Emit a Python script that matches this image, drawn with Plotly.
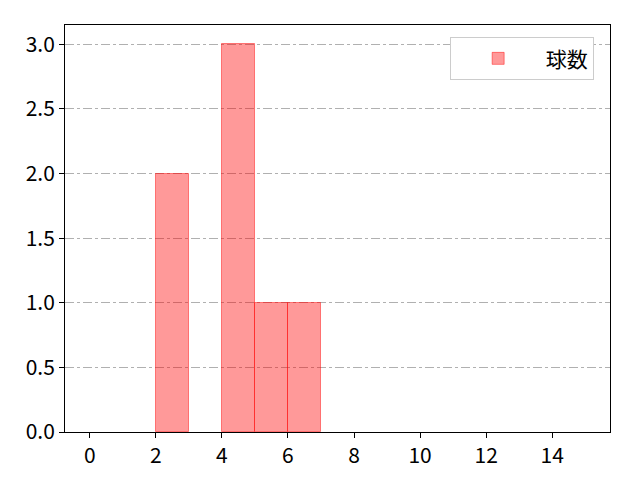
import plotly.graph_objects as go

# histogram bins (left edges) and counts per bin
bin_left = list(range(15))
counts = [0, 0, 2, 0, 3, 1, 1, 0, 0, 0, 0, 0, 0, 0, 0]
series_name = "球数"

x_ticks = [0, 2, 4, 6, 8, 10, 12, 14]
y_ticks = [0.0, 0.5, 1.0, 1.5, 2.0, 2.5, 3.0]

# empty bins are not drawn (matplotlib draws nothing for them)
bar_x = [b + 0.5 for b, c in zip(bin_left, counts) if c > 0]
bar_y = [c for c in counts if c > 0]

fig = go.Figure()
fig.add_trace(go.Bar(
    x=bar_x,
    y=bar_y,
    width=1,
    name=series_name,
    marker=dict(color="rgba(255,0,0,0.4)",
                line=dict(color="rgba(255,0,0,0.45)", width=1)),
    showlegend=True,
))

# page body adds ~8px offset, margins compensate
fig.update_layout(
    width=640, height=480,
    plot_bgcolor="white", paper_bgcolor="white",
    font=dict(family="Noto Sans CJK JP, DejaVu Sans, sans-serif", size=21, color="black"),
    margin=dict(l=57, r=38, t=17, b=56),
    bargap=0,
    xaxis=dict(
        range=[-0.75, 15.75], tickvals=x_ticks,
        showgrid=False, zeroline=False,
        showline=True, mirror=True, linecolor="black", linewidth=1,
        ticks="outside", ticklen=5, tickcolor="black",
    ),
    yaxis=dict(
        range=[0, 3.15], tickvals=y_ticks, tickformat=".1f",
        showgrid=True, gridcolor="#b0b0b0", griddash="dashdot", gridwidth=1,
        zeroline=False,
        showline=True, mirror=True, linecolor="black", linewidth=1,
        ticks="outside", ticklen=5, tickcolor="black",
    ),
    legend=dict(
        x=0.97, y=0.97, xanchor="right", yanchor="top",
        bordercolor="#cccccc", borderwidth=1, bgcolor="white",
        font=dict(size=21), itemwidth=85,
    ),
)

fig.write_html("out.html")
